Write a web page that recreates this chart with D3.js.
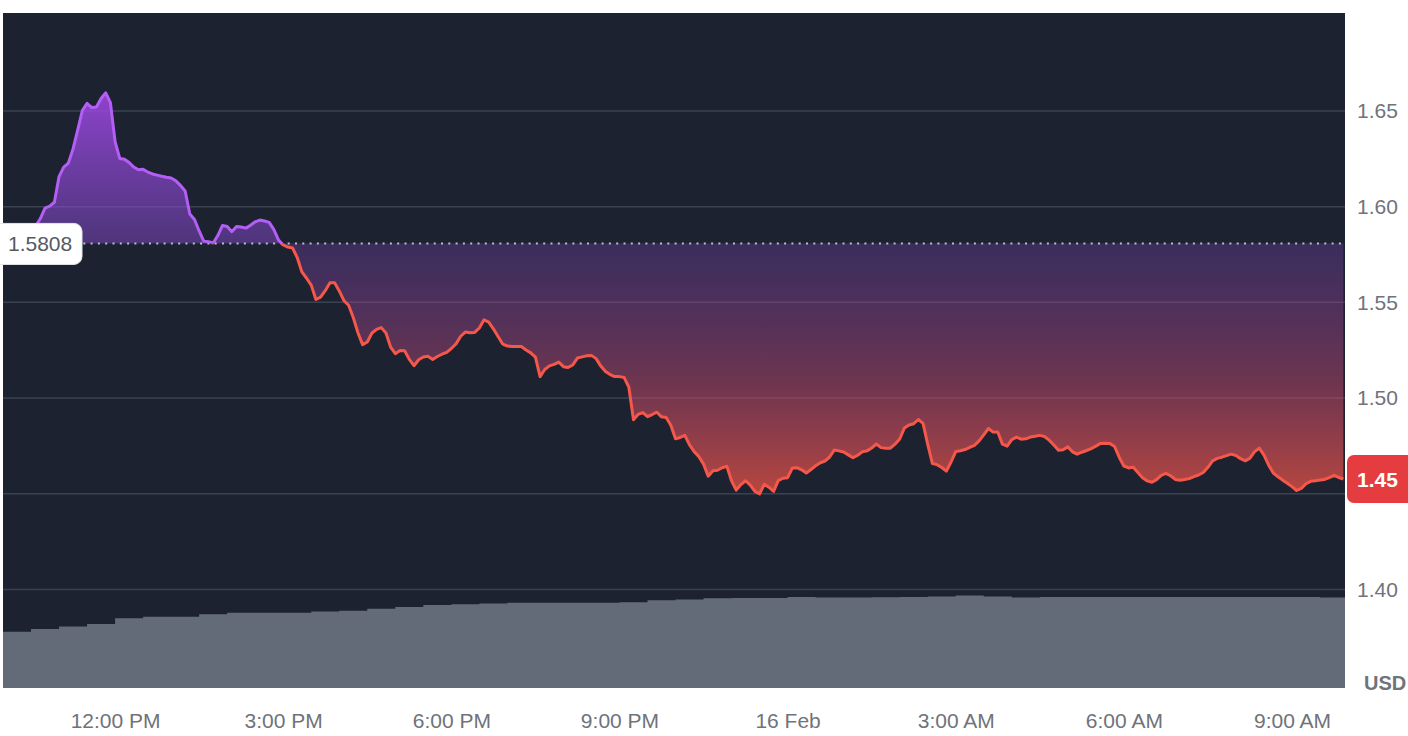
<!DOCTYPE html>
<html><head><meta charset="utf-8">
<script src="https://cdn.jsdelivr.net/npm/d3@7"></script>
<style>
html,body{margin:0;padding:0;background:#fff;overflow:hidden}
svg{display:block}
</style></head><body>
<svg id="chart" width="1408" height="736"></svg>
<script>
// ---------- data ----------
const priceStart = "2024-02-15T10:35:00";
const priceStepMinutes = 5;
const prices = [
1.5899,1.5938,1.5992,1.6003,1.6023,1.6157,1.6207,1.6228,1.6302,1.6401,
1.6503,1.6540,1.6518,1.6521,1.6565,1.6595,1.6544,1.6340,1.6252,1.6248,
1.6231,1.6207,1.6193,1.6195,1.6181,1.6171,1.6165,1.6159,1.6154,1.6150,
1.6135,1.6111,1.6082,1.5962,1.5933,1.5873,1.5819,1.5817,1.5810,1.5849,
1.5902,1.5896,1.5869,1.5896,1.5894,1.5888,1.5903,1.5921,1.5930,1.5925,
1.5918,1.5880,1.5825,1.5800,1.5789,1.5784,1.5734,1.5659,1.5626,1.5590,
1.5515,1.5527,1.5561,1.5602,1.5602,1.5560,1.5509,1.5485,1.5421,1.5341,
1.5279,1.5293,1.5340,1.5359,1.5368,1.5340,1.5266,1.5232,1.5249,1.5247,
1.5202,1.5169,1.5200,1.5215,1.5218,1.5202,1.5217,1.5229,1.5239,1.5259,
1.5283,1.5323,1.5345,1.5341,1.5343,1.5366,1.5409,1.5397,1.5362,1.5322,
1.5282,1.5272,1.5269,1.5269,1.5269,1.5251,1.5236,1.5214,1.5112,1.5149,
1.5168,1.5176,1.5188,1.5164,1.5160,1.5173,1.5209,1.5215,1.5221,1.5223,
1.5206,1.5167,1.5139,1.5123,1.5112,1.5112,1.5107,1.5058,1.4887,1.4915,
1.4924,1.4903,1.4914,1.4926,1.4902,1.4898,1.4858,1.4787,1.4794,1.4805,
1.4755,1.4720,1.4694,1.4655,1.4592,1.4620,1.4623,1.4636,1.4643,1.4567,
1.4519,1.4548,1.4568,1.4545,1.4512,1.4499,1.4549,1.4534,1.4512,1.4569,
1.4581,1.4584,1.4634,1.4636,1.4625,1.4608,1.4627,1.4646,1.4662,1.4671,
1.4692,1.4729,1.4724,1.4718,1.4703,1.4688,1.4701,1.4719,1.4724,1.4739,
1.4760,1.4741,1.4738,1.4738,1.4759,1.4786,1.4843,1.4859,1.4866,1.4888,
1.4868,1.4758,1.4658,1.4652,1.4637,1.4618,1.4666,1.4720,1.4725,1.4731,
1.4742,1.4753,1.4776,1.4808,1.4841,1.4822,1.4823,1.4759,1.4749,1.4783,
1.4796,1.4785,1.4787,1.4796,1.4800,1.4805,1.4799,1.4780,1.4755,1.4727,
1.4730,1.4745,1.4719,1.4707,1.4717,1.4726,1.4736,1.4749,1.4763,1.4764,
1.4763,1.4747,1.4691,1.4645,1.4635,1.4638,1.4611,1.4583,1.4567,1.4560,
1.4574,1.4596,1.4606,1.4594,1.4575,1.4571,1.4574,1.4579,1.4589,1.4598,
1.4611,1.4638,1.4672,1.4685,1.4691,1.4699,1.4707,1.4700,1.4683,1.4672,
1.4686,1.4720,1.4738,1.4702,1.4649,1.4608,1.4589,1.4571,1.4555,1.4537,
1.4517,1.4528,1.4552,1.4565,1.4568,1.4572,1.4575,1.4584,1.4596,1.4585,
1.4577
];
const baselinePrice = 1.5808;

const volumeStart = "2024-02-15T10:00:00";
const volumeStepMinutes = 30;
const volumes = [
56.3,59,61.5,64,69.7,71.3,71.3,73.7,75.3,75.3,75.3,76.5,77.3,79.3,81,83,
83.7,84.5,85.3,85.3,85.3,85.3,85.7,87.7,88.5,89.7,90,90,91,90.5,90.5,90.7,
91,91.5,92.5,91.5,90.5,91,91,91,91,91,91,91,91,91,91,90.5
];

const yTicks = [1.40, 1.45, 1.50, 1.55, 1.60, 1.65];
const currencyLabel = "USD";
const xDomainStrings = ["2024-02-15T10:00:00", "2024-02-16T09:56:45"];
const yDomain = [1.3485, 1.7012];
const volumeDomain = [0, 100];

// ---------- layout ----------
const W = 1408, H = 736;
const plot = {left: 3, right: 1345, top: 13, bottom: 688};
const FONT = "'Liberation Sans', Arial, Helvetica, sans-serif";
const textGray = "#6f737a";

const parse = s => new Date(s);
const t0 = parse(priceStart);
const priceData = prices.map((v, i) => ({t: new Date(t0.getTime() + i * priceStepMinutes * 60000), v}));
const v0 = parse(volumeStart);
const volData = volumes.map((v, i) => ({t: new Date(v0.getTime() + i * volumeStepMinutes * 60000), v}));
volData.push({t: new Date(v0.getTime() + volumes.length * volumeStepMinutes * 60000), v: volumes[volumes.length - 1]});

const x = d3.scaleTime().domain(xDomainStrings.map(parse)).range([plot.left, plot.right]);
const y = d3.scaleLinear().domain(yDomain).range([plot.bottom, plot.top]);
const yVol = d3.scaleLinear().domain(volumeDomain).range([plot.bottom, plot.bottom - 100]);

const svg = d3.select("#chart");
const defs = svg.append("defs");

defs.append("clipPath").attr("id", "plotClip").append("rect")
  .attr("x", plot.left).attr("y", plot.top)
  .attr("width", plot.right - plot.left).attr("height", plot.bottom - plot.top);

const yBase = y(baselinePrice);
defs.append("clipPath").attr("id", "aboveClip").append("rect")
  .attr("x", plot.left).attr("y", plot.top)
  .attr("width", plot.right - plot.left).attr("height", yBase - plot.top);
defs.append("clipPath").attr("id", "belowClip").append("rect")
  .attr("x", plot.left).attr("y", yBase)
  .attr("width", plot.right - plot.left).attr("height", plot.bottom - yBase);

const maxP = d3.max(prices), minP = d3.min(prices);
const gUp = defs.append("linearGradient").attr("id", "gradUp")
  .attr("gradientUnits", "userSpaceOnUse").attr("x1", 0).attr("x2", 0)
  .attr("y1", y(maxP)).attr("y2", yBase);
gUp.append("stop").attr("offset", 0).attr("stop-color", "rgb(160,72,230)").attr("stop-opacity", 0.86);
gUp.append("stop").attr("offset", 1).attr("stop-color", "rgb(140,76,214)").attr("stop-opacity", 0.45);

const gDn = defs.append("linearGradient").attr("id", "gradDn")
  .attr("gradientUnits", "userSpaceOnUse").attr("x1", 0).attr("x2", 0)
  .attr("y1", yBase).attr("y2", y(minP));
gDn.append("stop").attr("offset", 0).attr("stop-color", "rgb(130,70,200)").attr("stop-opacity", 0.3);
gDn.append("stop").attr("offset", 0.55).attr("stop-color", "rgb(205,75,115)").attr("stop-opacity", 0.46);
gDn.append("stop").attr("offset", 1).attr("stop-color", "rgb(245,85,68)").attr("stop-opacity", 0.72);

// background
svg.append("rect").attr("width", W).attr("height", H).attr("fill", "#ffffff");
svg.append("rect")
  .attr("x", plot.left).attr("y", plot.top)
  .attr("width", plot.right - plot.left).attr("height", plot.bottom - plot.top)
  .attr("fill", "#1c2230");

const gp = svg.append("g").attr("clip-path", "url(#plotClip)");

// gridlines
gp.selectAll("line.grid").data(yTicks).join("line")
  .attr("class", "grid")
  .attr("x1", plot.left).attr("x2", plot.right)
  .attr("y1", d => y(d)).attr("y2", d => y(d))
  .attr("stroke", "#3a4251").attr("stroke-width", 1.5);

// volume
const volArea = d3.area().curve(d3.curveStepAfter)
  .x(d => x(d.t)).y0(yVol(0)).y1(d => yVol(d.v));
gp.append("path").datum(volData).attr("d", volArea).attr("fill", "#646b78");

// baseline fills
const area = d3.area().x(d => x(d.t)).y0(yBase).y1(d => y(d.v));
gp.append("path").datum(priceData).attr("d", area)
  .attr("fill", "url(#gradUp)").attr("clip-path", "url(#aboveClip)");
gp.append("path").datum(priceData).attr("d", area)
  .attr("fill", "url(#gradDn)").attr("clip-path", "url(#belowClip)");

// baseline dotted line
gp.append("line")
  .attr("x1", plot.left).attr("x2", plot.right)
  .attr("y1", yBase).attr("y2", yBase)
  .attr("stroke", "#b9bdc7").attr("stroke-width", 2)
  .attr("stroke-dasharray", "2 5.3");

// price line
const line = d3.line().x(d => x(d.t)).y(d => y(d.v));
gp.append("path").datum(priceData).attr("d", line)
  .attr("fill", "none").attr("stroke", "#b35ff5").attr("stroke-width", 3)
  .attr("stroke-linejoin", "round").attr("clip-path", "url(#aboveClip)");
gp.append("path").datum(priceData).attr("d", line)
  .attr("fill", "none").attr("stroke", "#f5584a").attr("stroke-width", 3)
  .attr("stroke-linejoin", "round").attr("clip-path", "url(#belowClip)");

// y axis (right)
const lastVal = prices[prices.length - 1];
const yLast = y(lastVal);
const yAxis = d3.axisRight(y).tickValues(yTicks.filter(d => Math.abs(y(d) - yLast) > 26))
  .tickFormat(d3.format(".2f")).tickSize(0).tickPadding(12);
const gy = svg.append("g").attr("transform", `translate(${plot.right},0)`).call(yAxis);
gy.select(".domain").remove();
gy.selectAll("text").attr("font-family", FONT).attr("font-size", 21).attr("fill", textGray);

svg.append("text").attr("x", 1364).attr("y", 690)
  .attr("font-family", FONT).attr("font-size", 20).attr("font-weight", 700)
  .attr("fill", textGray).text(currencyLabel);

// x axis
const fmtTick = d => (d.getHours() === 0 && d.getMinutes() === 0)
  ? d3.timeFormat("%-d %b")(d) : d3.timeFormat("%-I:%M %p")(d);
const xAxis = d3.axisBottom(x).ticks(d3.timeHour.every(3)).tickFormat(fmtTick)
  .tickSize(0).tickPadding(25);
const gx = svg.append("g").attr("transform", `translate(0,${plot.bottom})`).call(xAxis);
gx.select(".domain").remove();
gx.selectAll("text").attr("font-family", FONT).attr("font-size", 21).attr("fill", textGray);

// baseline label (left)
const baseLbl = svg.append("g");
baseLbl.append("rect").attr("x", -10).attr("y", yBase - 20).attr("width", 92).attr("height", 41)
  .attr("rx", 8).attr("fill", "#ffffff").attr("stroke", "#e3e5e9").attr("stroke-width", 1);
baseLbl.append("text").attr("x", 8).attr("y", yBase).attr("dy", "0.36em")
  .attr("font-family", FONT).attr("font-size", 21).attr("fill", "#555a62")
  .text(d3.format(".4f")(baselinePrice));

// last price label (right)
const lastLbl = svg.append("g");
lastLbl.append("rect").attr("x", 1347).attr("y", yLast - 24).attr("width", 75).attr("height", 48)
  .attr("rx", 7).attr("fill", "#e53c3f");
lastLbl.append("text").attr("x", 1357).attr("y", yLast).attr("dy", "0.36em")
  .attr("font-family", FONT).attr("font-size", 21).attr("font-weight", 700).attr("fill", "#ffffff")
  .text((Math.floor(lastVal * 100) / 100).toFixed(2));
</script>
</body></html>
